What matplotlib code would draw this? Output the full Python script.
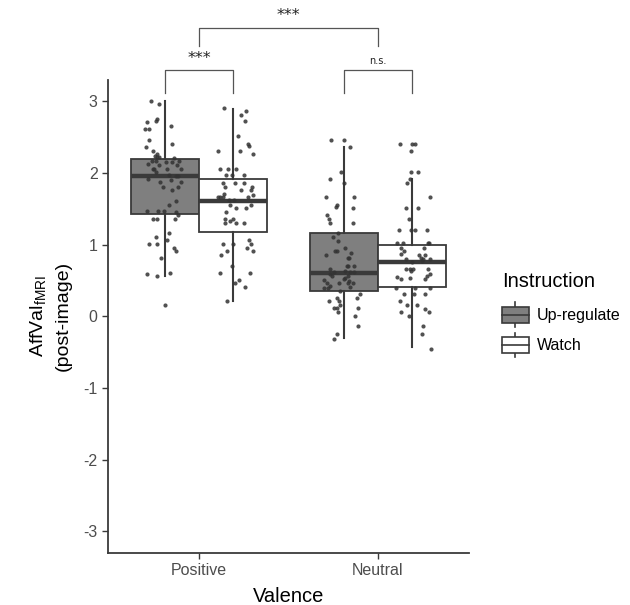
import matplotlib
matplotlib.use("Agg")
import matplotlib.pyplot as plt
from matplotlib.patches import Rectangle, Patch
from matplotlib.lines import Line2D

plt.rcParams["font.family"] = ["Liberation Sans", "DejaVu Sans"]
plt.rcParams["mathtext.fontset"] = "custom"
plt.rcParams["mathtext.rm"] = "Liberation Sans"
plt.rcParams["axes.unicode_minus"] = False

valence = ["Positive", "Neutral"]
instruction = ["Up-regulate", "Watch"]

# box statistics: whisker low, q1, median, q3, whisker high
pos_up_box = [0.57, 1.43, 1.96, 2.19, 3.00]
pos_watch_box = [0.22, 1.18, 1.61, 1.91, 2.90]
neu_up_box = [-0.30, 0.35, 0.61, 1.16, 2.36]
neu_watch_box = [-0.43, 0.41, 0.76, 1.00, 1.91]

# individual participant values and their horizontal jitter
pos_up_vals = [3.01, 2.96, 2.76, 2.72, 2.71, 2.66, 2.61, 2.61, 2.46, 2.41, 2.36, 2.31, 2.26, 2.24, 2.22,
               2.22, 2.17, 2.17, 2.16, 2.21, 2.17, 2.16, 2.12, 2.11, 2.11, 2.06, 2.06, 2.06, 2.06, 2.01,
               1.97, 1.96, 1.96, 1.91, 1.90, 1.87, 1.87, 1.81, 1.81, 1.76, 1.61, 1.56, 1.47, 1.47, 1.47,
               1.46, 1.41, 1.36, 1.36, 1.36, 1.16, 1.11, 1.06, 1.01, 1.01, 0.96, 0.91, 0.81, 0.59, 0.57,
               0.61, 0.16]
pos_up_jit = [-0.082, -0.032, -0.043, -0.054, -0.099, 0.030, -0.114, -0.088, -0.089, 0.037, -0.108,
              -0.067, -0.047, -0.058, -0.035, -0.043, -0.076, -0.052, 0.002, 0.048, 0.076, 0.039,
              -0.095, -0.032, 0.065, -0.069, -0.060, 0.011, 0.088, -0.050, 0.020, 0.060, 0.071, -0.095,
              0.034, -0.030, 0.086, -0.011, 0.071, 0.041, 0.058, 0.020, -0.102, -0.041, -0.007, 0.060,
              0.074, -0.069, -0.048, 0.056, 0.020, -0.052, 0.009, -0.093, -0.045, 0.048, 0.063, -0.022,
              -0.104, -0.045, 0.026, 0.000]

pos_watch_vals = [2.91, 2.87, 2.81, 2.72, 2.51, 2.41, 2.38, 2.31, 2.31, 2.26, 2.06, 2.06, 2.06, 1.97,
                  1.97, 1.97, 1.86, 1.86, 1.86, 1.81, 1.81, 1.76, 1.76, 1.69, 1.66, 1.66, 1.71, 1.66,
                  1.66, 1.62, 1.62, 1.56, 1.56, 1.51, 1.51, 1.46, 1.36, 1.36, 1.33, 1.31, 1.31, 1.30,
                  1.06, 1.01, 1.01, 1.01, 0.96, 0.91, 0.91, 0.86, 0.71, 0.61, 0.61, 0.51, 0.46, 0.41,
                  0.21]
pos_watch_jit = [-0.052, 0.074, 0.043, 0.067, 0.026, 0.084, 0.088, -0.086, 0.039, 0.110, -0.071,
                 -0.030, 0.019, -0.039, -0.007, 0.061, -0.058, 0.013, 0.061, -0.043, 0.106, 0.043,
                 0.101, 0.110, -0.084, -0.058, -0.052, -0.071, 0.082, -0.024, 0.006, -0.017, 0.101,
                 0.017, 0.071, -0.039, -0.045, -0.002, -0.020, 0.017, 0.061, -0.043, 0.091, -0.056,
                 0.002, 0.101, 0.080, -0.035, 0.114, -0.067, -0.006, -0.071, 0.093, 0.035, 0.009,
                 0.069, -0.035]

neu_up_vals = [2.46, 2.46, 2.36, 2.01, 1.86, 1.91, 1.66, 1.66, 1.56, 1.52, 1.51, 1.41, 1.36, 1.31,
               1.31, 1.17, 1.11, 1.05, 0.96, 0.91, 0.91, 0.86, 0.89, 0.81, 0.81, 0.71, 0.71, 0.71,
               0.66, 0.62, 0.64, 0.62, 0.62, 0.59, 0.57, 0.57, 0.54, 0.51, 0.50, 0.47, 0.46, 0.47,
               0.46, 0.52, 0.43, 0.40, 0.39, 0.41, 0.36, 0.25, 0.31, 0.26, 0.22, 0.22, 0.16, 0.12,
               0.12, 0.06, 0.12, 0.01, -0.14, -0.24, -0.31]
neu_up_jit = [-0.074, -0.002, 0.037, -0.015, -0.002, -0.078, -0.099, 0.058, -0.037, -0.043, 0.050,
              -0.093, -0.082, -0.078, 0.050, -0.034, -0.061, -0.034, 0.006, -0.052, -0.037, -0.101,
              0.041, 0.022, 0.030, 0.015, 0.022, 0.056, -0.080, -0.056, 0.004, 0.034, 0.056, -0.078,
              -0.069, 0.024, 0.006, -0.112, 0.030, -0.093, -0.026, 0.022, 0.050, 0.000, -0.078,
              -0.114, -0.088, 0.034, -0.019, -0.037, 0.088, 0.076, -0.026, -0.082, -0.019, -0.054,
              -0.037, -0.032, 0.080, 0.063, 0.078, -0.041, -0.058]

neu_watch_vals = [2.41, 2.41, 2.41, 2.31, 2.01, 2.01, 1.91, 1.86, 1.66, 1.51, 1.51, 1.36, 1.21, 1.21,
                  1.21, 1.21, 1.02, 1.02, 1.02, 1.02, 0.96, 0.96, 0.91, 0.87, 0.85, 0.86, 0.81, 0.80,
                  0.80, 0.80, 0.76, 0.78, 0.66, 0.66, 0.66, 0.66, 0.63, 0.54, 0.59, 0.56, 0.55, 0.52,
                  0.52, 0.40, 0.40, 0.40, 0.31, 0.31, 0.31, 0.21, 0.16, 0.16, 0.11, 0.06, 0.06, 0.01,
                  -0.14, -0.24, -0.45]
neu_watch_jit = [-0.065, 0.002, 0.017, -0.004, -0.002, 0.035, -0.009, -0.024, 0.102, -0.032, 0.035,
                 -0.013, -0.073, -0.004, 0.020, 0.084, -0.084, -0.050, 0.089, 0.095, -0.063, 0.069,
                 -0.043, -0.058, 0.043, 0.076, 0.054, -0.032, 0.065, 0.102, 0.002, 0.058, -0.035,
                 -0.009, 0.004, 0.091, -0.004, -0.009, 0.102, 0.084, -0.084, -0.061, 0.073, -0.088,
                 0.020, 0.102, -0.043, 0.013, 0.076, -0.065, -0.024, 0.028, 0.073, -0.058, 0.095,
                 -0.017, 0.065, 0.058, 0.108]

UP_FILL = "#7f7f7f"
EDGE = "#3a3a3a"
DOT = "#333333"
TEXT_GREY = "#4d4d4d"
DODGE = 0.19
BOX_W = 0.38


class BoxKeyHandler:
    def legend_artist(self, legend, orig_handle, fontsize, handlebox):
        x0, y0 = -handlebox.xdescent, -handlebox.ydescent
        w, h = handlebox.width, handlebox.height
        face = orig_handle.get_facecolor()
        tr = handlebox.get_transform()
        bot, top = y0 + h * 0.17, y0 + h * 0.83
        rect = Rectangle((x0, bot), w, top - bot, facecolor=face, edgecolor=EDGE,
                         linewidth=1.2, transform=tr)
        mid = Line2D([x0, x0 + w], [y0 + h / 2] * 2, color=EDGE, linewidth=1.2, transform=tr)
        lo = Line2D([x0 + w / 2] * 2, [y0, bot], color=EDGE, linewidth=1.2, transform=tr)
        hi = Line2D([x0 + w / 2] * 2, [top, y0 + h], color=EDGE, linewidth=1.2, transform=tr)
        for art in (lo, hi, rect, mid):
            handlebox.add_artist(art)
        return rect


fig = plt.figure(figsize=(6.3, 6.05), dpi=100)
ax = fig.add_axes([0.1714, 0.086, 0.573, 0.782])

groups = [
    (1 - DODGE, pos_up_box, pos_up_vals, pos_up_jit, UP_FILL),
    (1 + DODGE, pos_watch_box, pos_watch_vals, pos_watch_jit, "white"),
    (2 - DODGE, neu_up_box, neu_up_vals, neu_up_jit, UP_FILL),
    (2 + DODGE, neu_watch_box, neu_watch_vals, neu_watch_jit, "white"),
]

for pos, box, vals, jit, fill in groups:
    stats = [dict(whislo=box[0], q1=box[1], med=box[2], q3=box[3], whishi=box[4])]
    ax.bxp(stats, positions=[pos], widths=BOX_W, patch_artist=True, showfliers=False,
           showcaps=False,
           boxprops=dict(facecolor=fill, edgecolor=EDGE, linewidth=1.3),
           whiskerprops=dict(color=EDGE, linewidth=1.5),
           medianprops=dict(color=EDGE, linewidth=3.2, solid_capstyle="butt"),
           zorder=2)
    ax.scatter([pos + j for j in jit], vals, s=9, color=DOT, alpha=0.85,
               linewidths=0, zorder=3)

ax.set_xlim(0.49, 2.51)
ax.set_ylim(-3.3, 3.3)
ax.set_xticks([1, 2])
ax.set_xticklabels(valence)
ax.set_yticks(range(-3, 4))
ax.tick_params(axis="both", labelsize=11.5, labelcolor=TEXT_GREY, color=EDGE,
               length=4, width=1)
for side in ("top", "right"):
    ax.spines[side].set_visible(False)
for side in ("left", "bottom"):
    ax.spines[side].set_color(EDGE)
    ax.spines[side].set_linewidth(1.3)

ax.set_xlabel("Valence", fontsize=14.5, labelpad=6)
ax.set_ylabel("AffVal$_{\\mathrm{fMRI}}$\n(post-image)", fontsize=14, labelpad=8,
              linespacing=1.5)

# significance brackets
BR = "#555555"
brackets = [
    (1.0, 2.0, 3.77, 4.03, "***", 11.5),
    (1 - DODGE, 1 + DODGE, 3.12, 3.44, "***", 11.5),
    (2 - DODGE, 2 + DODGE, 3.12, 3.44, "n.s.", 7),
]
for xa, xb, y_leg, y_top, label, fs in brackets:
    ax.plot([xa, xa, xb, xb], [y_leg, y_top, y_top, y_leg], color=BR, linewidth=0.9,
            clip_on=False)
    ax.text((xa + xb) / 2, y_top + 0.06, label, ha="center", va="bottom", fontsize=fs,
            color="#222222", family=["DejaVu Sans"], clip_on=False)

handles = [Patch(facecolor=UP_FILL), Patch(facecolor="white")]
leg = fig.legend(handles, instruction, loc="upper left",
                 bbox_to_anchor=(0.784, 0.563), frameon=False, title="Instruction",
                 title_fontsize=14.5, fontsize=11.5, handlelength=1.7, handleheight=2.0,
                 labelspacing=0.35, handletextpad=0.5, borderpad=0, alignment="left",
                 handler_map={Patch: BoxKeyHandler()})
leg._legend_box.sep = 8

fig.savefig("out.png", dpi=100)
